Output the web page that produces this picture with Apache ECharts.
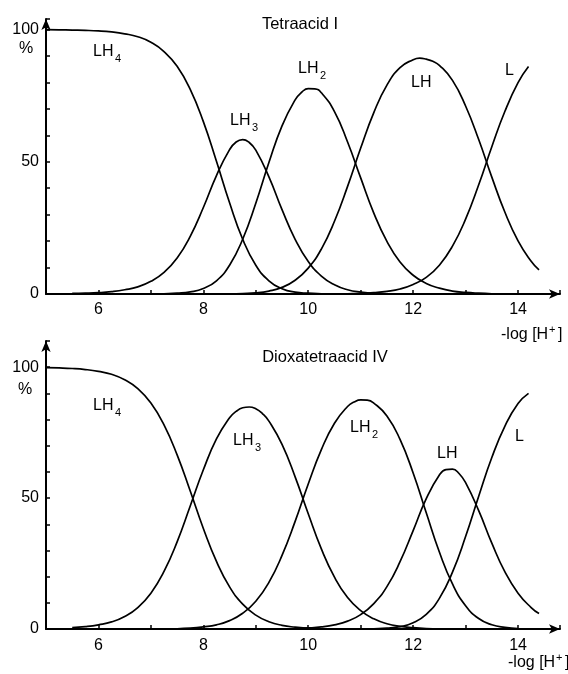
<!DOCTYPE html>
<html>
<head>
<meta charset="utf-8">
<script src="https://cdn.jsdelivr.net/npm/echarts@6/dist/echarts.min.js"></script>
<style>
html, body { margin: 0; padding: 0; background: #fff; }
#chart { width: 568px; height: 674px; }
</style>
</head>
<body>
<div id="chart"></div>
<script>
// species distribution, [-log[H+], %]
// Tetraacid I
const topLH4 = [[5,100],[5.25,99.9],[5.5,99.8],[5.75,99.7],[6,99.5],[6.25,99.1],[6.5,98.4],[6.75,97.3],[7,95.2],[7.25,91.7],[7.5,86.1],[7.75,77.4],[8,65.2],[8.25,50.2],[8.5,34.5],[8.75,20.7],[9,10.9],[9.25,5.0],[9.5,2.0],[9.75,0.7],[10,0.3],[10.25,0.1],[10.5,0]];
const topLH3 = [[5.5,0.2],[5.75,0.3],[6,0.5],[6.25,0.9],[6.5,1.6],[6.75,2.7],[7,4.8],[7.25,8.2],[7.5,13.6],[7.75,21.8],[8,32.7],[8.25,44.8],[8.5,54.6],[8.625,57.5],[8.75,58.4],[8.875,57.3],[9,54.4],[9.25,44.3],[9.5,31.9],[9.75,20.7],[10,12.3],[10.25,6.8],[10.5,3.5],[10.75,1.6],[11,0.7],[11.25,0.3],[11.5,0.1]];
const topLH2 = [[7,0],[7.25,0.1],[7.5,0.3],[7.75,0.8],[8,2.1],[8.25,5.0],[8.5,10.9],[8.75,20.7],[9,34.3],[9.25,49.7],[9.5,63.6],[9.75,73.4],[9.875,76.3],[10,77.7],[10.125,77.6],[10.25,76.1],[10.5,69.0],[10.75,57.5],[11,43.9],[11.25,30.6],[11.5,19.9],[11.75,12.1],[12,7.1],[12.25,4.0],[12.5,2.2],[12.75,1.1],[13,0.6],[13.25,0.3],[13.5,0.1]];
const topLH = [[8.5,0],[8.75,0.15],[9,0.4],[9.25,1.1],[9.5,2.5],[9.75,5.2],[10,9.8],[10.25,17.0],[10.5,27.5],[10.75,40.7],[11,55.2],[11.25,68.6],[11.5,79.0],[11.75,85.6],[12,88.6],[12.125,89.2],[12.25,88.8],[12.375,88.0],[12.5,86.5],[12.75,80.8],[13,71.1],[13.25,58.4],[13.5,44.2],[13.75,30.9],[14,20.1],[14.25,12.4],[14.4,9.1]];
const topL = [[10.5,0],[10.75,0.1],[11,0.2],[11.25,0.5],[11.5,1.0],[11.75,1.9],[12,3.6],[12.25,6.3],[12.5,10.9],[12.75,18.1],[13,28.3],[13.25,41.3],[13.5,55.7],[13.75,69.1],[14,79.9],[14.2,86.0]];

// Dioxatetraacid IV
const botLH4 = [[5,99.8],[5.25,99.7],[5.5,99.5],[5.75,99.1],[6,98.4],[6.25,97.3],[6.5,95.2],[6.75,91.8],[7,86.3],[7.25,78.0],[7.5,66.5],[7.75,52.7],[8,38.4],[8.25,25.8],[8.5,16.1],[8.75,9.5],[9,5.3],[9.25,2.8],[9.5,1.4],[9.75,0.7],[10,0.3],[10.25,0.1],[10.5,0]];
const botLH3 = [[5.5,0.5],[5.75,0.9],[6,1.6],[6.25,2.7],[6.5,4.8],[6.75,8.2],[7,13.7],[7.25,22.0],[7.5,33.3],[7.75,47.0],[8,60.8],[8.25,72.6],[8.5,80.7],[8.625,83.1],[8.75,84.5],[8.875,84.8],[9,84.1],[9.125,82.3],[9.25,79.4],[9.5,70.5],[9.75,58.1],[10,44.0],[10.25,30.6],[10.5,19.8],[10.75,12.0],[11,7.0],[11.25,3.9],[11.5,2.0],[11.75,1.0],[12,0.5],[12.25,0.2],[12.5,0.1]];
const botLH2 = [[7.5,0.1],[7.75,0.3],[8,0.8],[8.25,1.6],[8.5,3.2],[8.75,6.0],[9,10.6],[9.25,17.8],[9.5,28.1],[9.75,41.1],[10,55.4],[10.25,68.5],[10.5,78.6],[10.75,85.0],[10.875,86.7],[11,87.5],[11.125,87.4],[11.25,86.3],[11.5,81.4],[11.75,72.4],[12,59.6],[12.25,44.4],[12.5,29.4],[12.75,17.2],[13,8.9],[13.25,4.0],[13.5,1.6],[13.75,0.6],[14,0.2]];
const botLH = [[9.5,0.1],[9.75,0.2],[10,0.4],[10.25,0.8],[10.5,1.6],[10.75,3.0],[11,5.5],[11.25,9.7],[11.5,16.2],[11.75,25.7],[12,37.6],[12.25,49.8],[12.5,58.8],[12.625,60.9],[12.75,61.1],[12.875,59.4],[13,55.9],[13.25,45.2],[13.5,32.8],[13.75,21.8],[14,13.7],[14.25,8.2],[14.4,5.9]];
const botL = [[10.75,0],[11,0],[11.25,0.1],[11.5,0.3],[11.75,0.9],[12,2.4],[12.25,5.6],[12.5,11.7],[12.75,21.7],[13,35.3],[13.25,50.7],[13.5,65.5],[13.75,77.5],[14,86.1],[14.2,90.0]];

const xTickLabels = [6, 8, 10, 12, 14];
const yTickLabels = [0, 50, 100];
const titles = ['Tetraacid I', 'Dioxatetraacid IV'];

const FONT = '"Liberation Sans", Arial, Helvetica, sans-serif';

function xAxisFor(g, margin) {
  return {
    type: 'value', gridIndex: g, min: 5, max: 14.8, interval: 1,
    axisLine: { show: true, onZero: false, lineStyle: { color: '#000', width: 2 }, symbol: ['none', 'arrow'], symbolSize: [7, 11] },
    axisTick: { show: true, inside: true, length: 4, lineStyle: { color: '#000', width: 1.5 } },
    axisLabel: { color: '#000', fontSize: 16, fontFamily: FONT, margin: margin,
      formatter: v => xTickLabels.indexOf(v) >= 0 ? String(v) : '' },
    splitLine: { show: false }
  };
}

function yAxisFor(g, max) {
  return {
    type: 'value', gridIndex: g, min: 0, max: max, interval: 10,
    axisLine: { show: true, onZero: false, lineStyle: { color: '#000', width: 2 }, symbol: ['none', 'arrow'], symbolSize: [7, 11] },
    axisTick: { show: true, inside: true, length: 4, lineStyle: { color: '#000', width: 1.5 } },
    axisLabel: { color: '#000', fontSize: 16, fontFamily: FONT, margin: 7,
      formatter: v => yTickLabels.indexOf(v) >= 0 ? String(v) : '' },
    splitLine: { show: false }
  };
}

function curve(data, g) {
  return {
    type: 'line', xAxisIndex: g, yAxisIndex: g, data: data,
    showSymbol: false, smooth: 0.5, silent: true,
    lineStyle: { color: '#000', width: 1.7 }
  };
}

function txt(x, y, text, size, align) {
  return { type: 'text', x: x, y: y, silent: true,
    style: { text: text, fill: '#000', fontSize: size, fontFamily: FONT, align: align || 'left', verticalAlign: 'middle' } };
}

// species label with subscript
function species(x, y, sub) {
  const out = [txt(x, y, sub === 'L' ? 'L' : 'LH', 16)];
  if (sub && sub !== 'L') out.push(txt(x + 22, y + 7, sub, 11));
  return out;
}

function hplus(x, y) {
  return [txt(x, y, '-log [H', 16), txt(x + 48, y - 5, '+', 11), txt(x + 57, y, ']', 16)];
}

const graphics = [].concat(
  txt(300, 24, titles[0], 16.5, 'center'),
  txt(325, 357, titles[1], 16.5, 'center'),
  txt(26, 49, '%', 16, 'center'),
  txt(25, 390, '%', 16, 'center'),
  species(93, 52, '4'), species(230, 121, '3'), species(298, 69, '2'), species(411, 83, ''), species(505, 71, 'L'),
  species(93, 406, '4'), species(233, 441, '3'), species(350, 428, '2'), species(437, 454, ''), species(515, 437, 'L'),
  hplus(501, 335), hplus(508, 663)
);

const chart = echarts.init(document.getElementById('chart'));
chart.setOption({
  animation: false,
  backgroundColor: '#fff',
  grid: [
    { left: 46, top: 19, width: 514, height: 275 },
    { left: 46, top: 341, width: 514, height: 288 }
  ],
  xAxis: [xAxisFor(0, 8), xAxisFor(1, 9)],
  yAxis: [yAxisFor(0, 104), yAxisFor(1, 110)],
  series: [
    curve(topLH4, 0), curve(topLH3, 0), curve(topLH2, 0), curve(topLH, 0), curve(topL, 0),
    curve(botLH4, 1), curve(botLH3, 1), curve(botLH2, 1), curve(botLH, 1), curve(botL, 1)
  ],
  graphic: graphics
});
</script>
</body>
</html>
